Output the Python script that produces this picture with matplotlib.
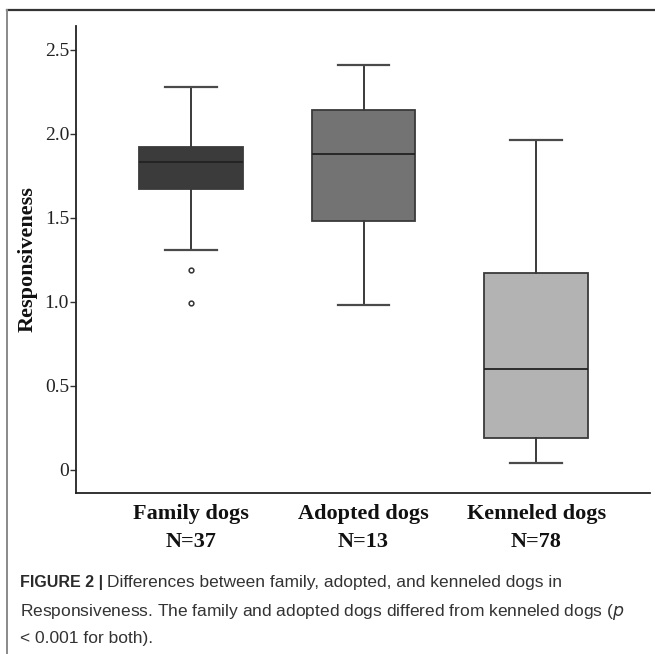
import matplotlib
matplotlib.use("Agg")
import matplotlib.pyplot as plt
from matplotlib.lines import Line2D

# Group summaries for the responsiveness scores
groups = ["Family dogs", "Adopted dogs", "Kenneled dogs"]
counts = [37, 13, 78]
whisker_low = [1.31, 0.98, 0.04]
q1 = [1.67, 1.48, 0.19]
median = [1.83, 1.88, 0.60]
q3 = [1.92, 2.14, 1.17]
whisker_high = [2.28, 2.41, 1.96]
outliers = [[1.19, 0.99], [], []]

fill_colors = ["#3b3b3b", "#737373", "#b3b3b3"]
yticks = [0, 0.5, 1.0, 1.5, 2.0, 2.5]
ytick_labels = ["0", "0.5", "1.0", "1.5", "2.0", "2.5"]

W, H = 655, 654
fig = plt.figure(figsize=(W / 100, H / 100), dpi=100)

# Outer frame lines (top and left)
fig.add_artist(Line2D([7 / W, 1], [1 - 10 / H, 1 - 10 / H], transform=fig.transFigure,
                      color="#333333", lw=1.6))
fig.add_artist(Line2D([7 / W, 7 / W], [0, 1 - 10 / H], transform=fig.transFigure,
                      color="#8a8a8a", lw=1.4))

ax = fig.add_axes([76 / W, 1 - 493 / H, (650 - 76) / W, (493 - 26) / H])

stats = []
for i, g in enumerate(groups):
    stats.append(dict(label=f"{g}\nN={counts[i]}", whislo=whisker_low[i], q1=q1[i],
                      med=median[i], q3=q3[i], whishi=whisker_high[i],
                      fliers=outliers[i]))

positions = list(range(len(groups)))
bp = ax.bxp(stats, positions=positions, widths=0.6, patch_artist=True, showfliers=True,
            boxprops=dict(edgecolor="#3a3a3a", linewidth=1.3),
            medianprops=dict(color="#222222", linewidth=1.3),
            whiskerprops=dict(color="#3a3a3a", linewidth=1.4),
            capprops=dict(color="#4a4a4a", linewidth=1.6),
            flierprops=dict(marker="o", markersize=3.4, markerfacecolor="white",
                            markeredgecolor="#333333", markeredgewidth=1.1))
for patch, c in zip(bp["boxes"], fill_colors):
    patch.set_facecolor(c)
for cap in bp["caps"]:
    x0, x1 = cap.get_xdata()
    cx = (x0 + x1) / 2
    cap.set_xdata([cx - 0.15, cx + 0.15])

ax.set_xlim(-0.667, 2.66)
ax.set_ylim(-0.137, 2.64)
ax.set_yticks(yticks)
ax.set_yticklabels(ytick_labels, fontfamily="Liberation Serif", fontsize=14, color="#222222")
ax.tick_params(axis="y", length=4, width=1.0, color="#333333", pad=1)
ax.tick_params(axis="x", length=0, pad=8)
for lab in ax.get_xticklabels():
    lab.set_fontfamily("Liberation Serif")
    lab.set_fontweight("bold")
    lab.set_fontsize(16)
    lab.set_linespacing(1.55)
    lab.set_color("#111111")

ax.set_ylabel("Responsiveness", fontfamily="Liberation Serif", fontweight="bold",
              fontsize=16, color="#111111", labelpad=5)

for side in ["top", "right"]:
    ax.spines[side].set_visible(False)
ax.spines["left"].set_color("#222222")
ax.spines["left"].set_linewidth(1.3)
ax.spines["bottom"].set_color("#222222")
ax.spines["bottom"].set_linewidth(1.3)

# Caption
cap_font = ["Liberation Sans", "DejaVu Sans"]
y1 = 1 - 583 / H
head = fig.text(20 / W, y1, "FIGURE 2 |", fontfamily=cap_font, fontweight="bold",
                fontsize=11.5, color="#2a2a2a", va="center", ha="left")
renderer = fig.canvas.get_renderer()
bb = head.get_window_extent(renderer=renderer)
fig.text((bb.x1 + 4) / W, y1, "Differences between family, adopted, and kenneled dogs in",
         fontfamily=cap_font, fontsize=12.5, color="#333333", va="center", ha="left")
fig.text(20 / W, 1 - 612 / H,
         "Responsiveness. The family and adopted dogs differed from kenneled dogs ($\\it{p}$",
         fontfamily=cap_font, fontsize=12.5, color="#333333", va="center", ha="left")
fig.text(20 / W, 1 - 639 / H, "< 0.001 for both).", fontfamily=cap_font, fontsize=12.5,
         color="#333333", va="center", ha="left")

fig.savefig("out.png", dpi=100, facecolor="white")
